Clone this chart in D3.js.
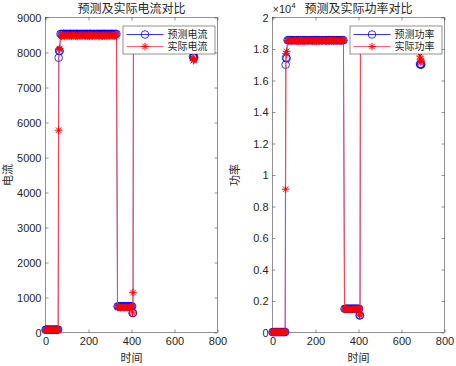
<!DOCTYPE html>
<html>
<head>
<meta charset="utf-8">
<script src="https://cdn.jsdelivr.net/npm/d3@7"></script>
<style>
  body { margin: 0; background: #fff; }
  svg { display: block; }
  text { fill: #262626; }
</style>
</head>
<body>
<div id="chart"><svg></svg></div>
<script>
// sample times (shared by both panels)
const time = [
  0, 4, 8, 12, 16, 20, 24, 28, 32, 36, 40, 44, 48, 52, 56,
  59, 61, 63, 66,
  70, 75, 80, 85, 90, 95, 100, 105, 110, 115, 120, 125, 130, 135, 140, 145, 150, 155, 160, 165,
  170, 175, 180, 185, 190, 195, 200, 205, 210, 215, 220, 225, 230, 235, 240, 245, 250, 255, 260,
  265, 270, 275, 280, 285, 290, 295, 300, 305, 310, 315, 320, 325, 330,
  335, 340, 345, 350, 355, 360, 365, 370, 375, 380, 385, 390, 395, 400,
  403, 405, 407, 409, 684,
  686, 688, 690, 692
]

const currentPred = [
  78, 81, 80, 79, 82, 80, 78, 81, 80, 79, 81, 80, 82, 79, 80,
  84, 7850, 8050, 8040,
  8532, 8528, 8531, 8535, 8529, 8530, 8533, 8527, 8531, 8534,
  8530, 8528, 8532, 8529, 8531, 8533, 8530, 8527, 8534, 8530,
  8529, 8532, 8531, 8528, 8533, 8530, 8529, 8531, 8534, 8527,
  8530, 8532, 8529, 8531, 8530, 8533, 8528, 8531, 8530, 8529,
  8534, 8530, 8531, 8528, 8532, 8530, 8529, 8533, 8531, 8530,
  8528, 8532, 8530,
  745, 750, 748, 752, 747, 749, 751, 746, 750, 748, 753, 747, 749, 750,
  745, 555, 560, 8520, 8525,
  7875, 7860, 7870, 7865
]

const currentActual = [
  70, 74, 72, 69, 75, 71, 73, 70, 74, 72, 71, 75, 70, 73, 72,
  76, 5780, 8090, 8110,
  8485, 8462, 8501, 8478, 8455, 8492, 8470, 8497, 8466, 8483,
  8459, 8490, 8474, 8503, 8468, 8481, 8457, 8495, 8472, 8488,
  8464, 8499, 8477, 8460, 8493, 8471, 8486, 8458, 8497, 8475,
  8468, 8490, 8462, 8484, 8500, 8473, 8457, 8491, 8479, 8466,
  8495, 8470, 8483, 8461, 8498, 8476, 8463, 8489, 8472, 8486,
  8465, 8492, 8478,
  720, 712, 726, 708, 718, 723, 710, 716, 725, 713, 719, 707, 722, 715,
  716, 560, 1140, 8490, 8488,
  7840, 7765, 7790, 7810
]

const powerPred = [
  25, 30, 28, 27, 31, 29, 26, 30, 28, 27, 29, 31, 28, 26, 29,
  32, 17000, 17450, 17400,
  18562, 18558, 18561, 18565, 18559, 18560, 18563, 18557, 18561, 18564,
  18560, 18558, 18562, 18559, 18561, 18563, 18560, 18557, 18564, 18560,
  18559, 18562, 18561, 18558, 18563, 18560, 18559, 18561, 18564, 18557,
  18560, 18562, 18559, 18561, 18560, 18563, 18558, 18561, 18560, 18559,
  18564, 18560, 18561, 18558, 18562, 18560, 18559, 18563, 18561, 18560,
  18558, 18562, 18560,
  1505, 1512, 1508, 1515, 1503, 1510, 1513, 1506, 1511, 1509, 1514, 1504, 1510, 1507,
  1500, 1080, 1090, 18550, 18552,
  17050, 17020, 17000, 17030
]

const powerActual = [
  20, 24, 22, 19, 25, 21, 23, 20, 24, 22, 21, 25, 20, 23, 22,
  26, 9100, 17700, 17850,
  18545, 18502, 18571, 18518, 18490, 18552, 18510, 18567, 18496, 18533,
  18489, 18560, 18524, 18575, 18508, 18541, 18493, 18565, 18512, 18548,
  18504, 18569, 18527, 18495, 18558, 18511, 18546, 18488, 18567, 18525,
  18508, 18560, 18492, 18544, 18570, 18513, 18497, 18551, 18529, 18506,
  18565, 18510, 18543, 18491, 18568, 18526, 18503, 18549, 18512, 18546,
  18495, 18562, 18528,
  1480, 1472, 1490, 1466, 1485, 1478, 1469, 1488, 1475, 1483, 1470, 1492, 1477, 1486,
  1478, 1100, 1120, 18520, 18524,
  17550, 17350, 17150, 17250
]

const xTicks = [0, 200, 400, 600, 800]
const currentTicks = [0, 1000, 2000, 3000, 4000, 5000, 6000, 7000, 8000, 9000]
const powerTicks = [0, 0.2, 0.4, 0.6, 0.8, 1, 1.2, 1.4, 1.6, 1.8, 2]

const WIDTH = 456
const HEIGHT = 366
const TOP = 17.5
const BOTTOM = 332.5
const NUM_FONT = '"Liberation Sans", Arial, sans-serif'
const CJK_FONT = '"Noto Sans CJK SC", sans-serif'

const svg = d3.select('#chart').select('svg')
  .attr('width', WIDTH)
  .attr('height', HEIGHT)

/**
 * Path of the MATLAB '*' marker.
 */
function starPath (r) {
  const d = r * 0.72
  return `M${-r},0L${r},0M0,${-r}L0,${r}M${-d},${-d}L${d},${d}M${-d},${d}L${d},${-d}`
}

/**
 * Draws one subplot: box, ticks, both series, legend and labels.
 */
function drawPanel (opts) {
  const g = svg.append('g')

  const x = d3.scaleLinear().domain([0, 800]).range([opts.left, opts.right])
  const y = d3.scaleLinear().domain(opts.yDomain).range([BOTTOM, TOP])

  const yVals = opts.yTicks.map(d => d * opts.tickScale)

  // ticks pointing inward, on all four sides
  g.append('g')
    .attr('transform', `translate(0,${BOTTOM})`)
    .call(d3.axisBottom(x).tickValues(xTicks).tickSize(-3).tickPadding(5))
  g.append('g')
    .attr('transform', `translate(0,${TOP})`)
    .call(d3.axisTop(x).tickValues(xTicks).tickSize(-3).tickFormat(''))
  g.append('g')
    .attr('transform', `translate(${opts.left},0)`)
    .call(d3.axisLeft(y).tickValues(yVals).tickSize(-3).tickPadding(4)
      .tickFormat((d, i) => String(opts.yTicks[i])))
  g.append('g')
    .attr('transform', `translate(${opts.right},0)`)
    .call(d3.axisRight(y).tickValues(yVals).tickSize(-3).tickFormat(''))

  g.selectAll('.domain').remove()
  g.selectAll('.tick line').attr('stroke', '#262626').attr('stroke-width', 0.5)
  g.selectAll('.tick text')
    .style('font-family', NUM_FONT)
    .style('font-size', '11px')
    .attr('fill', '#262626')

  g.append('rect')
    .attr('x', opts.left)
    .attr('y', TOP)
    .attr('width', opts.right - opts.left)
    .attr('height', BOTTOM - TOP)
    .attr('fill', 'none')
    .attr('stroke', '#262626')
    .attr('stroke-width', 0.5)

  const line = d3.line()
    .x((d, i) => x(time[i]))
    .y(d => y(d))

  // predicted series: blue line with circles
  g.append('path')
    .datum(opts.pred)
    .attr('d', line)
    .attr('fill', 'none')
    .attr('stroke', '#0000ff')
    .attr('stroke-width', 0.5)

  g.append('g')
    .selectAll('circle')
    .data(opts.pred)
    .join('circle')
    .attr('cx', (d, i) => x(time[i]))
    .attr('cy', d => y(d))
    .attr('r', 3.8)
    .attr('fill', 'none')
    .attr('stroke', '#0000ff')
    .attr('stroke-width', 0.8)

  // actual series: red line with stars
  g.append('path')
    .datum(opts.actual)
    .attr('d', line)
    .attr('fill', 'none')
    .attr('stroke', '#ff4040')
    .attr('stroke-width', 1)

  g.append('g')
    .selectAll('path')
    .data(opts.actual)
    .join('path')
    .attr('transform', (d, i) => `translate(${x(time[i])},${y(d)})`)
    .attr('d', starPath(3.8))
    .attr('stroke', '#ff0000')
    .attr('stroke-width', 1)
    .attr('fill', 'none')

  // legend
  const lx = opts.right - 94.5
  const ly = 26
  const legend = g.append('g').attr('transform', `translate(${lx},${ly})`)
  legend.append('rect')
    .attr('width', 92)
    .attr('height', 28)
    .attr('fill', '#fff')
    .attr('stroke', '#262626')
    .attr('stroke-width', 0.5)

  const entries = [
    { label: opts.labels[0], color: '#0000ff', lineColor: '#0000ff', marker: 'circle' },
    { label: opts.labels[1], color: '#ff0000', lineColor: '#ff4040', marker: 'star' }
  ]
  entries.forEach((e, i) => {
    const row = legend.append('g').attr('transform', `translate(0,${8.5 + i * 12})`)
    row.append('line')
      .attr('x1', 3.5)
      .attr('x2', 40.5)
      .attr('stroke', e.lineColor)
      .attr('stroke-width', 0.8)
    if (e.marker === 'circle') {
      row.append('circle')
        .attr('cx', 22)
        .attr('r', 3.8)
        .attr('fill', 'none')
        .attr('stroke', e.color)
        .attr('stroke-width', 0.8)
    } else {
      row.append('path')
        .attr('transform', 'translate(22,0)')
        .attr('d', starPath(3.8))
        .attr('stroke', e.color)
        .attr('stroke-width', 1)
    }
    row.append('text')
      .attr('x', 44.5)
      .attr('y', 0)
      .attr('dy', '0.35em')
      .style('font-family', CJK_FONT)
      .style('font-size', '10px')
      .text(e.label)
  })

  // title and axis labels
  g.append('text')
    .attr('x', (opts.left + opts.right) / 2)
    .attr('y', 13)
    .attr('text-anchor', 'middle')
    .style('font-family', CJK_FONT)
    .style('font-size', '12px')
    .text(opts.title)

  g.append('text')
    .attr('x', (opts.left + opts.right) / 2)
    .attr('y', 362)
    .attr('text-anchor', 'middle')
    .style('font-family', CJK_FONT)
    .style('font-size', '11px')
    .text('时间')

  g.append('text')
    .attr('transform', `translate(${opts.left - 34},${(TOP + BOTTOM) / 2}) rotate(-90)`)
    .attr('text-anchor', 'middle')
    .style('font-family', CJK_FONT)
    .style('font-size', '11px')
    .text(opts.yLabel)

  return g
}

drawPanel({
  left: 45.5,
  right: 217.5,
  yDomain: [0, 9000],
  yTicks: currentTicks,
  tickScale: 1,
  pred: currentPred,
  actual: currentActual,
  labels: ['预测电流', '实际电流'],
  title: '预测及实际电流对比',
  yLabel: '电流'
})

const powerPanel = drawPanel({
  left: 272.5,
  right: 444.5,
  yDomain: [0, 20000],
  yTicks: powerTicks,
  tickScale: 10000,
  pred: powerPred,
  actual: powerActual,
  labels: ['预测功率', '实际功率'],
  title: '预测及实际功率对比',
  yLabel: '功率'
})

// exponent label above the power axis
const expo = powerPanel.append('text')
  .attr('x', 272.5)
  .attr('y', 13)
  .style('font-family', NUM_FONT)
  .style('font-size', '11px')
expo.append('tspan').text('×10')
expo.append('tspan').attr('dy', -5).style('font-size', '8px').text('4')
</script>
</body>
</html>
